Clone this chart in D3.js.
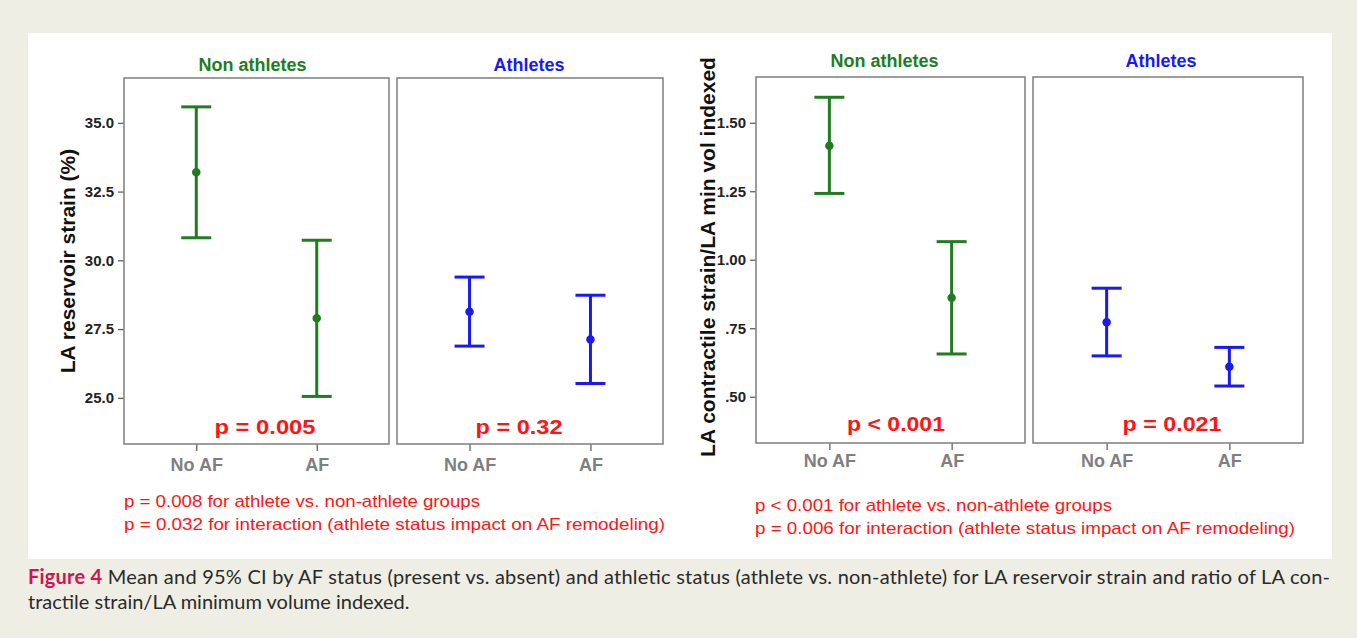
<!DOCTYPE html>
<html>
<head>
<meta charset="utf-8">
<script src="https://cdn.jsdelivr.net/npm/d3@7"></script>
<style>
  html, body { margin: 0; padding: 0; background: #eeeee4; }
  svg { display: block; }
</style>
</head>
<body>
<svg id="fig" width="1357" height="638" font-family="Arial, 'Liberation Sans', sans-serif"></svg>
<script>
// ---- data ----
const groups = ["No AF", "AF"];
const panelNames = ["Non athletes", "Athletes"];

// LA reservoir strain (%), mean and 95% CI
const strainNonAthMean = [33.20, 27.89];
const strainNonAthLow  = [30.82, 25.05];
const strainNonAthHigh = [35.58, 30.73];
const strainAthMean    = [28.13, 27.12];
const strainAthLow     = [26.88, 25.52];
const strainAthHigh    = [29.39, 28.73];

// LA contractile strain / LA min vol indexed, mean and 95% CI
const ratioNonAthMean = [1.416, 0.861];
const ratioNonAthLow  = [1.242, 0.656];
const ratioNonAthHigh = [1.593, 1.066];
const ratioAthMean    = [0.772, 0.609];
const ratioAthLow     = [0.649, 0.539];
const ratioAthHigh    = [0.896, 0.680];

const strainTicks = [25.0, 27.5, 30.0, 32.5, 35.0];
const strainTickLabels = ["25.0", "27.5", "30.0", "32.5", "35.0"];
const ratioTicks = [0.50, 0.75, 1.00, 1.25, 1.50];
const ratioTickLabels = [".50", ".75", "1.00", "1.25", "1.50"];

const strainPValues = ["p = 0.005", "p = 0.32"];
const ratioPValues  = ["p < 0.001", "p = 0.021"];
const strainNotes = ["p = 0.008 for athlete vs. non-athlete groups",
                     "p = 0.032 for interaction (athlete status impact on AF remodeling)"];
const ratioNotes  = ["p < 0.001 for athlete vs. non-athlete groups",
                     "p = 0.006 for interaction (athlete status impact on AF remodeling)"];

// ---- styling ----
const GREEN = "#1e7d1e", BLUE = "#1a1af0", RED = "#ff1414";
const panelColors = [GREEN, BLUE];

const svg = d3.select("#fig");
svg.append("rect").attr("x", 28).attr("y", 33).attr("width", 1304).attr("height", 526).attr("fill", "#ffffff");

function rows(mean, lo, hi) {
  return groups.map((g, i) => ({ group: g, mean: mean[i], lo: lo[i], hi: hi[i] }));
}

function drawChart(cfg) {
  const y = d3.scaleLinear().domain(cfg.yDomain).range([cfg.bottom, cfg.top]);
  const g = svg.append("g");

  // y axis on the first panel
  const yAxis = d3.axisLeft(y)
    .tickValues(cfg.ticks)
    .tickFormat((d, i) => cfg.tickLabels[i])
    .tickSize(6).tickPadding(4);
  const ya = g.append("g").attr("transform", `translate(${cfg.panels[0].x0},0)`).call(yAxis);
  ya.select(".domain").remove();
  ya.selectAll(".tick line").attr("stroke", "#555").attr("stroke-width", 1.2);
  ya.selectAll(".tick text").attr("font-size", 15).attr("font-weight", "bold").attr("fill", "#222")
    .attr("font-family", "Arial, 'Liberation Sans', sans-serif");

  // y axis title
  g.append("text")
    .attr("transform", `translate(${cfg.yTitleX},${cfg.yTitleY}) rotate(-90)`)
    .attr("text-anchor", "middle")
    .attr("font-size", 21).attr("font-weight", "bold").attr("fill", "#111")
    .text(cfg.yTitle);

  cfg.panels.forEach((p, k) => {
    const x = d3.scalePoint().domain(groups).range([p.x0, p.x1]).padding(0.6);
    const color = panelColors[k];
    const data = cfg.series[k];

    // panel title
    g.append("text")
      .attr("x", (p.x0 + p.x1) / 2 + cfg.titleShift[k]).attr("y", cfg.titleY)
      .attr("text-anchor", "middle")
      .attr("font-size", 18).attr("font-weight", "bold").attr("fill", color)
      .text(panelNames[k]);

    // x axis
    const xAxis = d3.axisBottom(x).tickSize(7).tickPadding(cfg.xPad);
    const xa = g.append("g").attr("transform", `translate(0,${cfg.bottom})`).call(xAxis);
    xa.select(".domain").remove();
    xa.selectAll(".tick line").attr("stroke", "#555").attr("stroke-width", 1.2);
    xa.selectAll(".tick text").attr("font-size", 18).attr("font-weight", "bold").attr("fill", "#7f7f7f")
      .attr("font-family", "Arial, 'Liberation Sans', sans-serif");

    // frame
    g.append("rect")
      .attr("x", p.x0).attr("y", cfg.top)
      .attr("width", p.x1 - p.x0).attr("height", cfg.bottom - cfg.top)
      .attr("fill", "none").attr("stroke", "#858585").attr("stroke-width", 1.6);

    // error bars
    const bars = g.append("g").selectAll("g").data(data).join("g")
      .attr("stroke", color).attr("stroke-width", 3).attr("fill", color);
    bars.append("line")
      .attr("x1", d => x(d.group)).attr("x2", d => x(d.group))
      .attr("y1", d => y(d.lo)).attr("y2", d => y(d.hi));
    bars.append("line")
      .attr("x1", d => x(d.group) - 15).attr("x2", d => x(d.group) + 15)
      .attr("y1", d => y(d.hi)).attr("y2", d => y(d.hi));
    bars.append("line")
      .attr("x1", d => x(d.group) - 15).attr("x2", d => x(d.group) + 15)
      .attr("y1", d => y(d.lo)).attr("y2", d => y(d.lo));
    bars.append("circle")
      .attr("cx", d => x(d.group)).attr("cy", d => y(d.mean))
      .attr("r", 3.5).attr("stroke-width", 1.5);

    // p value
    g.append("text")
      .attr("x", p.x0 + cfg.pShift[k]).attr("y", cfg.pY)
      .attr("text-anchor", "middle")
      .attr("font-size", 21).attr("font-weight", "bold").attr("fill", RED)
      .attr("textLength", cfg.pLen[k]).attr("lengthAdjust", "spacingAndGlyphs")
      .text(cfg.pValues[k]);
  });

  // footnotes (set slightly wide, like the rest of the figure's text)
  cfg.notes.forEach((t, i) => {
    g.append("text")
      .attr("x", cfg.noteX).attr("y", cfg.noteY + i * 23)
      .attr("font-size", 16.5).attr("fill", RED)
      .attr("textLength", cfg.noteLen[i]).attr("lengthAdjust", "spacingAndGlyphs")
      .text(t);
  });
}

drawChart({
  yDomain: [23.32, 36.63], top: 78, bottom: 444,
  panels: [{ x0: 124, x1: 389 }, { x0: 397, x1: 663 }],
  ticks: strainTicks, tickLabels: strainTickLabels,
  yTitle: "LA reservoir strain (%)", yTitleX: 75, yTitleY: 261,
  titleY: 71, titleShift: [-4, -1], xPad: 7,
  series: [rows(strainNonAthMean, strainNonAthLow, strainNonAthHigh),
           rows(strainAthMean, strainAthLow, strainAthHigh)],
  pValues: strainPValues, pShift: [141, 122], pLen: [101, 87], pY: 434,
  notes: strainNotes, noteX: 124, noteY: 507, noteLen: [356, 541]
});

drawChart({
  yDomain: [0.331, 1.667], top: 77, bottom: 443,
  panels: [{ x0: 756, x1: 1025 }, { x0: 1033, x1: 1303 }],
  ticks: ratioTicks, tickLabels: ratioTickLabels,
  yTitle: "LA contractile strain/LA min vol indexed", yTitleX: 715, yTitleY: 257,
  titleY: 67, titleShift: [-6, -7], xPad: 4,
  series: [rows(ratioNonAthMean, ratioNonAthLow, ratioNonAthHigh),
           rows(ratioAthMean, ratioAthLow, ratioAthHigh)],
  pValues: ratioPValues, pShift: [140, 139], pLen: [98, 99], pY: 431,
  notes: ratioNotes, noteX: 755, noteY: 511, noteLen: [357, 540]
});

// caption
const capFont = "Lato, 'Open Sans', sans-serif";
const cap = svg.append("text")
  .attr("x", 28).attr("y", 584)
  .attr("font-family", capFont)
  .attr("font-size", 20).attr("fill", "#2a2a2a")
  .attr("textLength", 1302).attr("lengthAdjust", "spacing");
cap.append("tspan").attr("font-weight", "bold").attr("fill", "#d4124f").text("Figure 4");
cap.append("tspan").text(" Mean and 95% CI by AF status (present vs. absent) and athletic status (athlete vs. non-athlete) for LA reservoir strain and ratio of LA con-");
svg.append("text")
  .attr("x", 28).attr("y", 609)
  .attr("font-family", capFont)
  .attr("font-size", 20).attr("fill", "#2a2a2a")
  .text("tractile strain/LA minimum volume indexed.");
</script>
</body>
</html>
